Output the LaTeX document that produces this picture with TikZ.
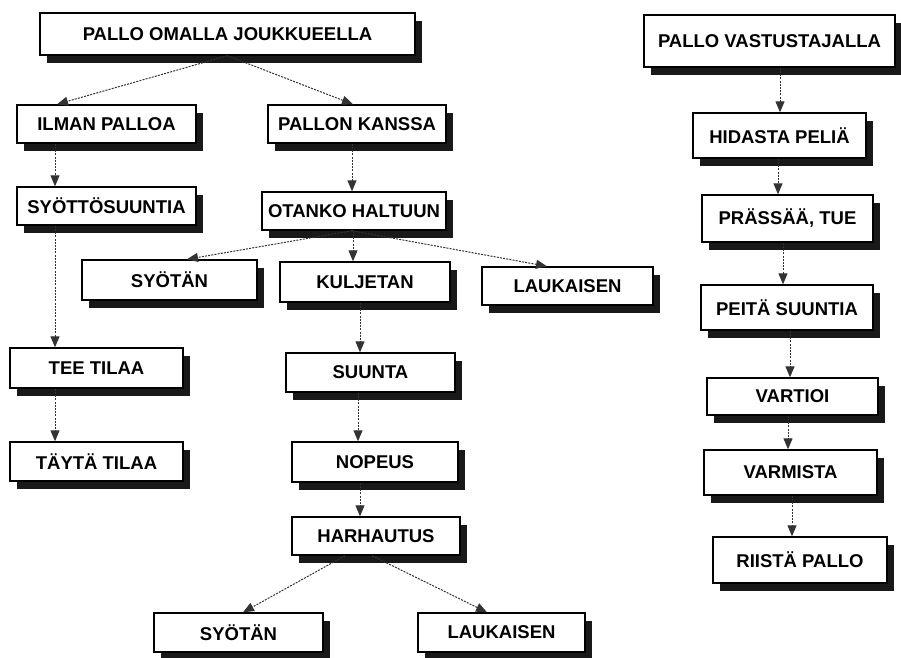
\documentclass[tikz,border=0pt]{standalone}
\usepackage{fontspec}
\setmainfont{Liberation Sans}
\usetikzlibrary{arrows.meta,shadows}
\begin{document}
\begin{tikzpicture}[x=1pt,y=-1pt,
  box/.style={draw=black, line width=1.4pt, fill=white,
    font=\bfseries\fontsize{18.5}{21}\selectfont, inner sep=0pt,
    drop shadow={shadow xshift=7pt,shadow yshift=-8pt,fill=black!90,opacity=1}},
  arr/.style={draw=black!80, line width=1pt, dash pattern=on 2pt off 1.2pt,
    -{Triangle[length=11pt,width=9pt]}}]
\useasboundingbox[fill=white] (0,0) rectangle (901,657);

% left / middle tree
\node[box, minimum width=375pt, minimum height=42pt] (pom) at (227.5,34) {PALLO OMALLA JOUKKUEELLA};
\node[box, minimum width=179pt, minimum height=38pt] (ilman) at (106.5,124) {ILMAN PALLOA};
\node[box, minimum width=178pt, minimum height=38pt] (kanssa) at (357,124) {PALLON KANSSA};
\node[box, minimum width=179pt, minimum height=38pt] (syotto) at (106.5,206) {SYÖTTÖSUUNTIA};
\node[box, minimum width=184pt, minimum height=38pt] (otanko) at (354,211) {OTANKO HALTUUN};
\node[box, minimum width=175pt, minimum height=40pt] (syotanA) at (169.5,280) {SYÖTÄN};
\node[box, minimum width=170pt, minimum height=40pt] (kuljetan) at (365,282) {KULJETAN};
\node[box, minimum width=171pt, minimum height=38pt] (laukA) at (567.5,286) {LAUKAISEN};
\node[box, minimum width=173pt, minimum height=40pt] (tee) at (96.5,368) {TEE TILAA};
\node[box, minimum width=169pt, minimum height=39pt] (suunta) at (370.5,372.5) {SUUNTA};
\node[box, minimum width=173pt, minimum height=39pt] (tayta) at (96.5,461.5) {TÄYTÄ TILAA};
\node[box, minimum width=166pt, minimum height=40pt] (nopeus) at (375,462) {NOPEUS};
\node[box, minimum width=168pt, minimum height=38pt] (harh) at (376,536) {HARHAUTUS};
\node[box, minimum width=169pt, minimum height=39pt] (syotanB) at (238.5,632.5) {SYÖTÄN};
\node[box, minimum width=167pt, minimum height=39pt] (laukB) at (501.5,632.5) {LAUKAISEN};

% right column
\node[box, minimum width=251pt, minimum height=52pt] (vast) at (769.5,41) {PALLO VASTUSTAJALLA};
\node[box, minimum width=173pt, minimum height=45pt] (hid) at (779.5,135.5) {HIDASTA PELIÄ};
\node[box, minimum width=171pt, minimum height=47pt] (pras) at (787.5,218.5) {PRÄSSÄÄ, TUE};
\node[box, minimum width=172pt, minimum height=45pt] (peita) at (787,307.5) {PEITÄ SUUNTIA};
\node[box, minimum width=171pt, minimum height=37pt] (vart) at (792.5,396.5) {VARTIOI};
\node[box, minimum width=173pt, minimum height=45pt] (varm) at (790.5,472.5) {VARMISTA};
\node[box, minimum width=174pt, minimum height=46pt] (riista) at (800,560) {RIISTÄ PALLO};

% connectors
\draw[arr] (pom.south) -- ([xshift=-49.5pt]ilman.north);
\draw[arr] (pom.south) -- ([xshift=-4pt]kanssa.north);
\draw[arr] ([xshift=-51.5pt]ilman.south) -- ([xshift=-51.5pt]syotto.north);
\draw[arr] ([xshift=-51.5pt]syotto.south) -- ([xshift=-41.5pt]tee.north);
\draw[arr] ([xshift=-41.5pt]tee.south) -- ([xshift=-41.5pt]tayta.north);
\draw[arr] ([xshift=-5pt]kanssa.south) -- ([xshift=-2pt]otanko.north);
\draw[arr] ([xshift=-2pt]otanko.south) -- ([xshift=17.5pt]syotanA.north);
\draw[arr] ([xshift=-1pt]otanko.south) -- ([xshift=-12pt]kuljetan.north);
\draw[arr] ([xshift=-2pt]otanko.south) -- ([xshift=-20.5pt]laukA.north);
\draw[arr] ([xshift=-5pt]kuljetan.south) -- ([xshift=-10.5pt]suunta.north);
\draw[arr] ([xshift=-12.5pt]suunta.south) -- ([xshift=-17pt]nopeus.north);
\draw[arr] ([xshift=-15pt]nopeus.south) -- ([xshift=-16pt]harh.north);
\draw[arr] ([xshift=-31pt]harh.south) -- ([xshift=4.5pt]syotanB.north);
\draw[arr] ([xshift=-4pt]harh.south) -- ([xshift=-14.5pt]laukB.north);

\draw[arr] ([xshift=10.5pt]vast.south) -- ([xshift=0.5pt]hid.north);
\draw[arr] ([xshift=-1.5pt]hid.south) -- ([xshift=-9.5pt]pras.north);
\draw[arr] ([xshift=-4.5pt]pras.south) -- ([xshift=-4pt]peita.north);
\draw[arr] ([xshift=3pt]peita.south) -- ([xshift=-2.5pt]vart.north);
\draw[arr] ([xshift=-4.5pt]vart.south) -- ([xshift=-2.5pt]varm.north);
\draw[arr] ([xshift=1.5pt]varm.south) -- ([xshift=-8pt]riista.north);
\end{tikzpicture}
\end{document}
